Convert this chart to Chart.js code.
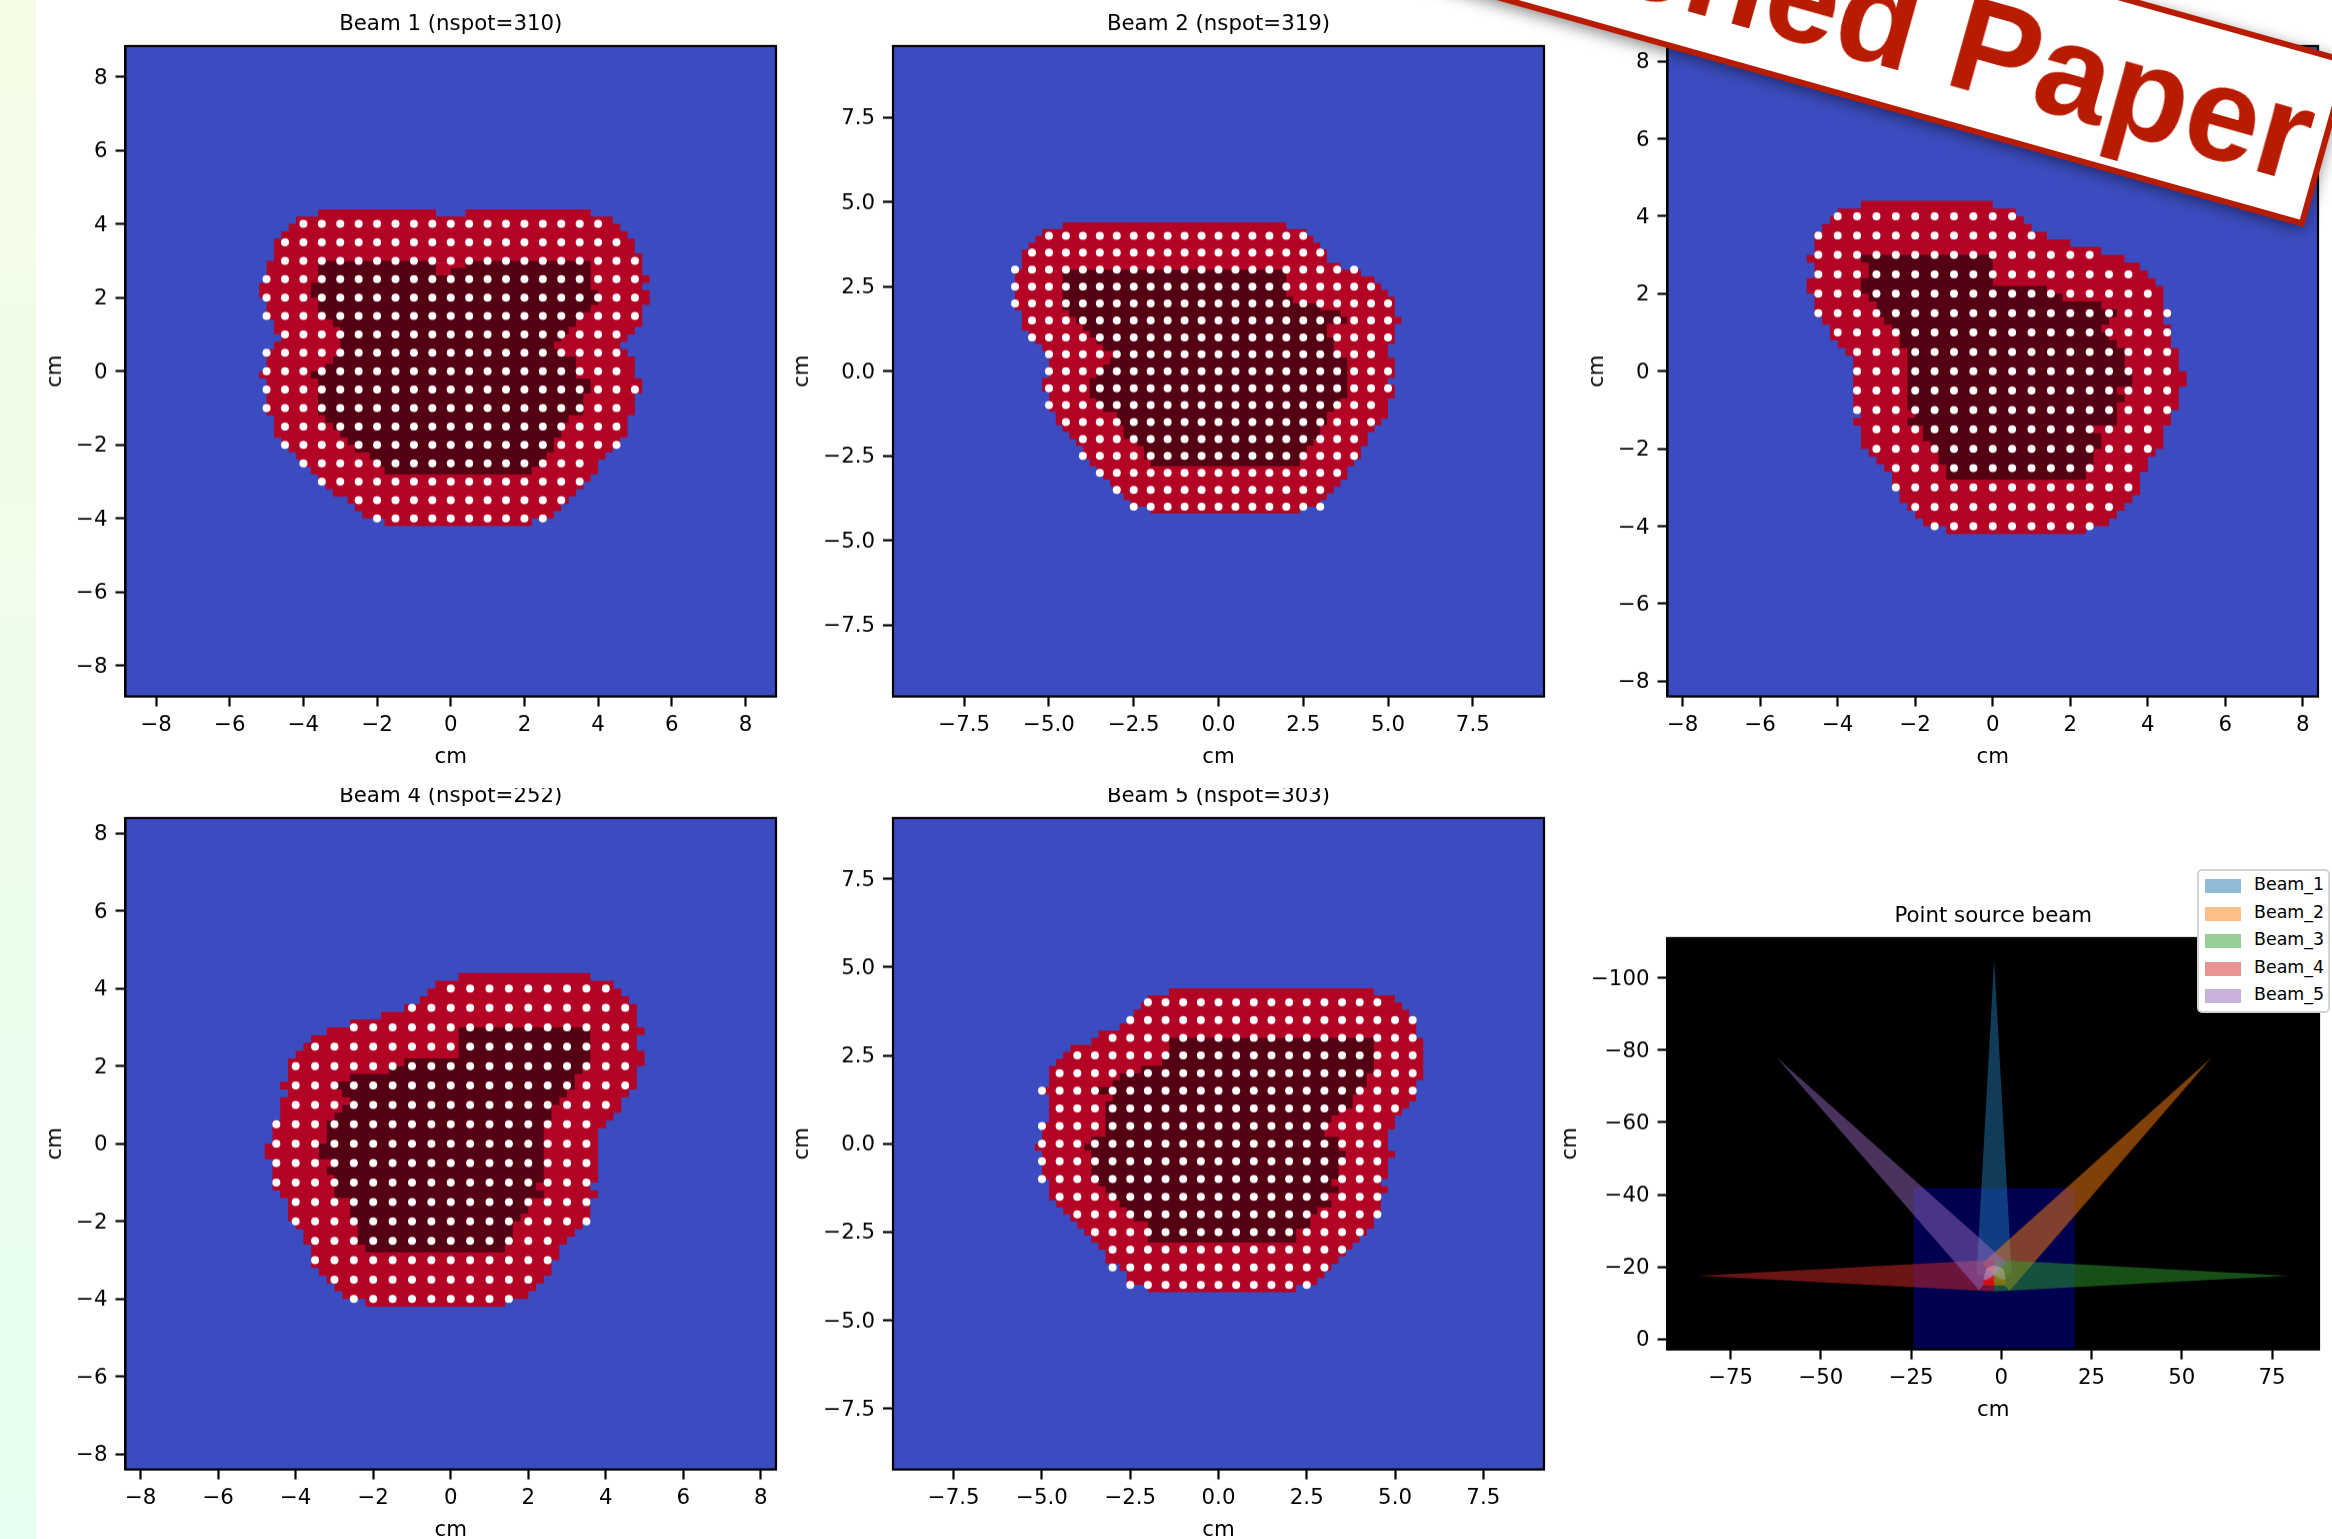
<!DOCTYPE html>
<html>
<head>
<meta charset="utf-8">
<title>Beam spots</title>
<script src="https://cdn.jsdelivr.net/npm/chart.js@4"></script>
<style>
  html, body { margin:0; padding:0; background:#fff; }
  #page { position:relative; width:2332px; height:1539px; overflow:hidden; background:#fff; }
  #strip { position:absolute; left:0; top:0; width:36px; height:1539px; background:linear-gradient(180deg,#f5fce6,#e6fff0); }
  #page canvas { position:absolute; }
  #legend { position:absolute; left:2197px; top:869px; width:133px; height:144px; box-sizing:border-box;
    background:#fff; border:2px solid #d4d4d4; border-radius:5px; font:17.4px "DejaVu Sans"; color:#000; }
  #legend div { position:absolute; left:55px; white-space:nowrap; line-height:20px; }
  #legend i { position:absolute; left:-49px; top:5px; width:36px; height:14px; }
  #banner { position:absolute; left:904px; top:53px; width:1400px; height:174px; box-sizing:border-box;
    transform-origin:100% 100%; transform:rotate(15.7deg); background:#fff; border:6px solid #b71c00;
    box-shadow:0 4px 14px rgba(0,0,0,.45); color:#b71c00; font:bold 133px "Liberation Sans";
    line-height:162px; text-align:right; padding-right:12px; white-space:nowrap; }
</style>
</head>
<body>
<div id="page">
  <div id="strip"></div>
  <canvas id="c1"></canvas><canvas id="c2"></canvas><canvas id="c3"></canvas>
  <canvas id="c4"></canvas><canvas id="c5"></canvas><canvas id="c6"></canvas>
  <div id="legend"></div>
  <div id="banner">Published Paper</div>
</div>
<script>
/* ── data ──────────────────────────────────────
   dose maps: [top row, left col, right col], one entry per run of equal rows,
   last entry only closes the shape. One cell = 0.2 cm.
   spots: [y cm, first x cm, last x cm] on the 0.5 cm spot lattice.
─────────────────────────────────────────────── */
const cellCm = 0.2;
const spotPitchCm = 0.5;

const beam1Red = [[22,-18,19],[21,-21,22],[20,-22,23],[19,-23,24],[18,-24,25],[16,-24,26],[15,-25,26],[13,-25,27],[12,-26,26],[11,-26,27],[10,-25,27],[9,-25,26],[7,-24,26],[6,-24,25],[5,-23,24],[4,-24,23],[3,-25,24],[2,-25,25],[0,-26,25],[-1,-25,26],[-3,-25,25],[-6,-24,24],[-9,-23,23],[-10,-22,22],[-11,-21,21],[-12,-20,20],[-13,-19,20],[-14,-18,19],[-15,-17,18],[-16,-16,17],[-17,-14,16],[-18,-13,15],[-19,-12,14],[-20,-9,11],[-21]];
const beam1Dark = [[15,-18,19],[12,-19,19],[11,-19,20],[10,-18,20],[9,-18,19],[8,-17,18],[7,-16,17],[6,-15,16],[5,-15,15],[4,-15,14],[3,-15,15],[2,-16,17],[1,-17,17],[0,-19,17],[-1,-18,19],[-3,-18,18],[-6,-17,16],[-7,-16,15],[-8,-15,15],[-9,-14,14],[-10,-13,14],[-11,-11,13],[-12,-10,12],[-13,-9,11],[-14]];
const beam1TopNotch = [[22,-2,2],[21]];
const beam1DarkNotch = [[15,-2,2],[14,-2,0],[13]];
const beam1Spots = [[4,-4,4],[3.5,-4.5,4.5],[3,-4.5,5],[2.5,-5,5],[2,-5,5],[1.5,-5,5],[1,-4.5,4.5],[0.5,-5,4.5],[0,-5,4.5],[-0.5,-5,5],[-1,-5,4.5],[-1.5,-4.5,4.5],[-2,-4.5,4.5],[-2.5,-4,3.5],[-3,-3.5,3.5],[-3.5,-2.5,3],[-4,-2,2.5]];

const beam2Red = [[22,-23,10],[21,-26,13],[20,-27,14],[19,-28,15],[18,-29,16],[16,-29,18],[15,-30,21],[14,-30,23],[13,-30,24],[12,-30,25],[11,-30,26],[9,-29,26],[8,-29,27],[7,-29,26],[6,-28,26],[5,-27,26],[4,-26,25],[3,-25,25],[2,-25,26],[-1,-26,25],[-2,-26,26],[-3,-25,26],[-4,-25,25],[-6,-24,25],[-7,-24,24],[-8,-23,23],[-9,-22,22],[-10,-21,22],[-11,-20,21],[-13,-19,20],[-14,-18,19],[-15,-17,19],[-16,-16,18],[-17,-15,17],[-18,-14,16],[-19,-13,15],[-20,-10,12],[-21]];
const beam2Dark = [[15,-23,10],[11,-23,11],[10,-23,15],[9,-22,18],[8,-21,19],[7,-20,16],[6,-19,16],[5,-18,17],[4,-17,17],[3,-15,18],[2,-16,19],[1,-17,19],[0,-18,19],[-1,-19,19],[-4,-18,18],[-5,-17,17],[-6,-15,16],[-8,-14,15],[-10,-12,14],[-11,-11,13],[-13,-10,12],[-14]];
const beam2Spots = [[4,-5,2.5],[3.5,-5.5,3],[3,-6,4],[2.5,-6,4.5],[2,-6,5],[1.5,-5.5,5],[1,-5.5,5],[0.5,-5,4.5],[0,-5,5],[-0.5,-5,5],[-1,-5,4.5],[-1.5,-4.5,4.5],[-2,-4,4],[-2.5,-4,4],[-3,-3.5,3.5],[-3.5,-3,3],[-4,-2.5,3]];

const beam3Red = [[22,-17,0],[21,-20,3],[20,-21,4],[19,-22,5],[18,-23,7],[17,-23,10],[16,-23,14],[15,-24,17],[14,-23,19],[13,-23,20],[12,-24,21],[11,-24,22],[10,-23,22],[8,-23,23],[7,-22,22],[6,-21,23],[4,-20,23],[3,-19,24],[2,-18,24],[0,-18,25],[-2,-18,24],[-5,-17,23],[-6,-18,23],[-7,-17,22],[-10,-16,21],[-11,-15,20],[-12,-14,20],[-13,-13,19],[-15,-12,19],[-16,-12,18],[-17,-11,17],[-18,-10,16],[-19,-9,15],[-20,-6,12],[-21]];
const beam3Dark = [[15,-17,0],[14,-16,0],[12,-17,0],[11,-17,7],[10,-16,9],[9,-15,14],[8,-15,16],[7,-14,15],[6,-13,14],[5,-12,15],[4,-12,16],[3,-11,17],[0,-11,18],[-2,-11,16],[-3,-11,17],[-4,-11,16],[-5,-10,16],[-6,-11,16],[-7,-9,13],[-8,-9,14],[-9,-8,14],[-10,-7,13],[-12,-6,12],[-14]];
const beam3Spots = [[4,-4,0.5],[3.5,-4.5,1],[3,-4.5,2.5],[2.5,-4.5,3.5],[2,-4.5,4],[1.5,-4.5,4.5],[1,-4,4.5],[0.5,-3.5,4.5],[0,-3.5,4.5],[-0.5,-3.5,4.5],[-1,-3.5,4.5],[-1.5,-3,4],[-2,-3,4],[-2.5,-2.5,3.5],[-3,-2.5,3.5],[-3.5,-2,3],[-4,-1.5,2.5]];

const beam4Red = [[22,1,18],[21,-2,21],[20,-3,22],[19,-4,23],[18,-6,24],[17,-9,24],[16,-13,24],[15,-16,25],[14,-18,24],[13,-19,24],[12,-20,25],[11,-21,25],[10,-21,24],[8,-22,24],[7,-21,23],[6,-22,22],[4,-22,21],[3,-23,20],[2,-23,19],[0,-24,19],[-2,-23,19],[-5,-23,18],[-6,-22,19],[-7,-21,18],[-10,-20,17],[-11,-19,16],[-12,-19,15],[-13,-18,14],[-15,-18,13],[-16,-17,13],[-17,-16,12],[-18,-15,11],[-19,-14,10],[-20,-11,7],[-21]];
const beam4Dark = [[15,1,18],[11,-6,18],[10,-8,17],[9,-13,16],[8,-15,16],[7,-14,15],[6,-13,14],[5,-14,13],[4,-15,13],[3,-16,12],[0,-17,12],[-2,-15,12],[-3,-16,12],[-4,-15,12],[-5,-15,11],[-6,-15,12],[-7,-13,10],[-9,-13,9],[-10,-12,8],[-13,-11,7],[-14]];
const beam4Spots = [[4,0,4],[3.5,-1,4.5],[3,-2.5,4.5],[2.5,-3.5,4.5],[2,-4,4.5],[1.5,-4,4.5],[1,-4,4],[0.5,-4.5,3.5],[0,-4.5,3.5],[-0.5,-4.5,3.5],[-1,-4.5,3.5],[-1.5,-4,3.5],[-2,-4,3.5],[-2.5,-3.5,2.5],[-3,-3.5,2.5],[-3.5,-3,2],[-4,-2.5,1.5]];

const beam5Red = [[22,-7,22],[21,-10,25],[20,-11,26],[19,-12,27],[18,-13,28],[17,-14,28],[16,-17,28],[15,-18,29],[14,-21,29],[13,-22,29],[12,-23,29],[11,-24,29],[9,-24,28],[8,-25,28],[7,-24,28],[6,-24,27],[5,-24,26],[4,-24,25],[3,-25,25],[2,-25,24],[0,-26,24],[-1,-25,25],[-2,-25,24],[-5,-24,23],[-6,-24,24],[-7,-24,23],[-8,-23,23],[-9,-22,23],[-10,-21,22],[-11,-20,22],[-12,-19,21],[-13,-18,20],[-14,-17,19],[-15,-16,18],[-16,-16,17],[-17,-14,16],[-18,-13,15],[-19,-13,14],[-20,-10,11],[-21]];
const beam5Dark = [[15,-7,22],[13,-8,22],[11,-11,22],[10,-14,21],[9,-15,21],[8,-18,20],[7,-15,19],[6,-16,19],[5,-16,17],[4,-16,16],[3,-16,15],[1,-18,17],[0,-19,17],[-1,-18,18],[-2,-18,17],[-5,-17,16],[-6,-16,17],[-7,-15,15],[-8,-14,16],[-9,-13,14],[-10,-12,13],[-11,-10,13],[-12,-10,11],[-14]];
const beam5Spots = [[4,-2,4.5],[3.5,-2.5,5.5],[3,-3,5.5],[2.5,-4,5.5],[2,-4.5,5.5],[1.5,-5,5.5],[1,-4.5,5],[0.5,-5,4.5],[0,-5,4.5],[-0.5,-5,4.5],[-1,-5,4.5],[-1.5,-4.5,4.5],[-2,-4,4.5],[-2.5,-3.5,4],[-3,-3,3.5],[-3.5,-3,3],[-4,-2.5,2.5]];

const ticks1 = [-8,-6,-4,-2,0,2,4,6,8];
const ticks2 = [-7.5,-5,-2.5,0,2.5,5,7.5];
const ticks6X = [-75,-50,-25,0,25,50,75];
const ticks6Y = [-100,-80,-60,-40,-20,0];

// point source view, cm
const phantomBox = [[-24.3,-41.8],[20.3,-41.8],[20.3,2.5],[-24.3,2.5]];
const source1 = [[-2,-105],[-6.9,-17.7],[2.9,-17.7]];
const source2 = [[58.3,-78],[-5.3,-21],[2.3,-13.4]];
const source3 = [[79.5,-17.6],[-2,-22],[-2,-13.2]];
const source4 = [[-84,-17.6],[-2,-22],[-2,-13.2]];
const source5 = [[-62.3,-78],[-6.2,-13.6],[1.4,-21.4]];
const targetTop = [[-5,-16.6],[-4.2,-19.6],[-1.9,-20.5],[0.5,-19.6],[1.3,-16.6],[-1.9,-16]];
const targetLeft = [[-5.3,-16],[-2,-17.6],[-2,-14.9],[-4.6,-14.9]];
const targetRight = [[-2,-17.6],[1.4,-16],[0.7,-14.9],[-2,-14.9]];
const beamNames = ['Beam_1','Beam_2','Beam_3','Beam_4','Beam_5'];
const beamColors = ['rgba(31,119,180,.5)','rgba(255,127,14,.5)','rgba(44,160,44,.5)','rgba(214,39,40,.5)','rgba(148,103,189,.5)'];

/* ── helpers ─────────────────────────────────── */
function rowsToOutline(rows) {
  const pts = [];
  for (let i = 0; i < rows.length - 1; i++) {
    pts.push({ x:rows[i][2]*cellCm, y:rows[i][0]*cellCm }, { x:rows[i][2]*cellCm, y:rows[i+1][0]*cellCm });
  }
  for (let i = rows.length - 2; i >= 0; i--) {
    pts.push({ x:rows[i][1]*cellCm, y:rows[i+1][0]*cellCm }, { x:rows[i][1]*cellCm, y:rows[i][0]*cellCm });
  }
  pts.push(pts[0]);
  return pts;
}

function spotsToPoints(rows) {
  const pts = [];
  rows.forEach(([y, first, last]) => {
    for (let x = first; x <= last; x += spotPitchCm) pts.push({ x, y });
  });
  return pts;
}

function shape(data, color, extra) {
  return Object.assign({ data, showLine:true, fill:'shape', backgroundColor:color, borderWidth:0, pointRadius:0 }, extra);
}

function polygon(corners, color, extra) {
  const data = corners.map(([x, y]) => ({ x, y }));
  data.push(data[0]);
  return shape(data, color, extra);
}

const fmtTick = (v, digits) => v.toFixed(digits).replace('-', '\u2212');

// axes background and the two spines Chart.js does not draw
const framePlugin = {
  id: 'frame',
  beforeDatasetsDraw(chart, args, opts) {
    const a = chart.chartArea, c = chart.ctx;
    c.save(); c.fillStyle = opts.color; c.fillRect(a.left, a.top, a.width, a.height); c.restore();
  },
  afterDatasetsDraw(chart) {
    const a = chart.chartArea, c = chart.ctx;
    c.save(); c.strokeStyle = '#000'; c.lineWidth = 2.2; c.strokeRect(a.left, a.top, a.width, a.height); c.restore();
  },
};

const FONT = { family:'"DejaVu Sans"', size:21.3, weight:'normal', lineHeight:1.2 };

function drawPanel(id, p) {
  const titleH = 34, rightPad = 13, bottomH = 73.5;
  const canvas = document.getElementById(id);
  const w = p.plot[2] + p.axisW + rightPad;
  const h = p.plot[3] + titleH + bottomH;
  canvas.style.left = (p.plot[0] - p.axisW) + 'px';
  canvas.style.top = (p.plot[1] - titleH) + 'px';
  canvas.width = w; canvas.height = h;
  canvas.style.width = w + 'px'; canvas.style.height = h + 'px';
  if (p.clipTop) canvas.style.clipPath = `inset(${p.clipTop}px 0 0 0)`;

  const axis = (range, ticks, digits, fit, reverse) => ({
    type:'linear', min:range[0], max:range[1], reverse:!!reverse,
    grid:{ drawOnChartArea:false, tickLength:10, tickWidth:2.2, tickColor:'#000' },
    border:{ color:'#000', width:2.2 },
    title:{ display:true, text:'cm', color:'#000', font:FONT, padding:0 },
    ticks:{ color:'#000', font:FONT, padding:fit.pad, labelOffset:fit.nudge, autoSkip:false, maxRotation:0, callback:v => fmtTick(v, digits) },
    afterBuildTicks:s => { s.ticks = ticks.map(value => ({ value })); },
    afterFit:fit.fn,
  });

  new Chart(canvas, {
    type:'scatter',
    data:{ datasets:p.datasets },
    plugins:[framePlugin],
    options:{
      responsive:false, animation:false, events:[], devicePixelRatio:1,
      layout:{ padding:{ left:0, top:0, right:rightPad, bottom:0 } },
      scales:{
        x:axis(p.xRange, p.xTicks, p.digits, { pad:6, nudge:0, fn:s => { s.height = bottomH; } }),
        y:axis(p.yRange, p.yTicks, p.digits, { pad:8, nudge:1.5, fn:s => { s.width = p.axisW; } }, p.reverseY),
      },
      plugins:{
        legend:{ display:false }, tooltip:{ enabled:false },
        frame:{ color:p.bg },
        title:{ display:true, text:p.title, color:'#000', font:FONT, fullSize:false, padding:{ top:0, bottom:8.4 } },
      },
    },
  });
}

function beamDatasets(red, dark, spots, patches) {
  const list = [
    { data:spotsToPoints(spots), showLine:false, pointRadius:4, pointBackgroundColor:'#fff', pointBorderWidth:0 },
  ];
  (patches || []).forEach(([rows, color]) => list.push(shape(rowsToOutline(rows), color)));
  list.push(shape(rowsToOutline(dark), '#550012'));
  list.push(shape(rowsToOutline(red), '#b40426'));
  return list;
}

/* ── panels ──────────────────────────────────── */
const BLUE = '#3b4cc0';
drawPanel('c1', { plot:[125,46,651,650], axisW:82.5, bg:BLUE, title:'Beam 1 (nspot=310)', digits:0,
  xRange:[-8.83,8.83], yRange:[-8.83,8.83], xTicks:ticks1, yTicks:ticks1,
  datasets:beamDatasets(beam1Red, beam1Dark, beam1Spots, [[beam1TopNotch, BLUE], [beam1DarkNotch, '#b40426']]) });
drawPanel('c2', { plot:[893,46,651,650], axisW:103, bg:BLUE, title:'Beam 2 (nspot=319)', digits:1,
  xRange:[-9.6,9.6], yRange:[-9.6,9.6], xTicks:ticks2, yTicks:ticks2,
  datasets:beamDatasets(beam2Red, beam2Dark, beam2Spots) });
drawPanel('c3', { plot:[1667,46,651,650], axisW:82.5, bg:BLUE, title:'Beam 3 (nspot=253)', digits:0,
  xRange:[-8.39,8.39], yRange:[-8.39,8.39], xTicks:ticks1, yTicks:ticks1,
  datasets:beamDatasets(beam3Red, beam3Dark, beam3Spots) });
drawPanel('c4', { plot:[125,818,651,651], axisW:82.5, bg:BLUE, title:'Beam 4 (nspot=252)', digits:0, clipTop:4,
  xRange:[-8.39,8.39], yRange:[-8.39,8.39], xTicks:ticks1, yTicks:ticks1,
  datasets:beamDatasets(beam4Red, beam4Dark, beam4Spots) });
drawPanel('c5', { plot:[893,818,651,651], axisW:103, bg:BLUE, title:'Beam 5 (nspot=303)', digits:1, clipTop:4,
  xRange:[-9.22,9.22], yRange:[-9.22,9.22], xTicks:ticks2, yTicks:ticks2,
  datasets:beamDatasets(beam5Red, beam5Dark, beam5Spots) });

drawPanel('c6', { plot:[1667,938,652,411], axisW:109.5, bg:'#000', title:'Point source beam', digits:0,
  xRange:[-92.5,88], yRange:[-111,2.8], xTicks:ticks6X, yTicks:ticks6Y, reverseY:true,
  datasets:[
    polygon(targetRight, 'rgba(140,120,10,.85)'),
    polygon(targetLeft, 'rgba(230,10,10,.85)'),
    polygon(targetTop, 'rgba(255,220,220,.3)'),
    polygon(source5, beamColors[4]),
    polygon(source4, beamColors[3]),
    polygon(source3, beamColors[2]),
    polygon(source2, beamColors[1]),
    polygon(source1, beamColors[0]),
    polygon(phantomBox, '#000050'),
  ] });

document.getElementById('legend').innerHTML = beamNames.map((name, i) =>
  `<div style="top:${3 + i*27.5}px"><i style="background:${beamColors[i]}"></i>${name}</div>`).join('');
</script>
</body>
</html>
